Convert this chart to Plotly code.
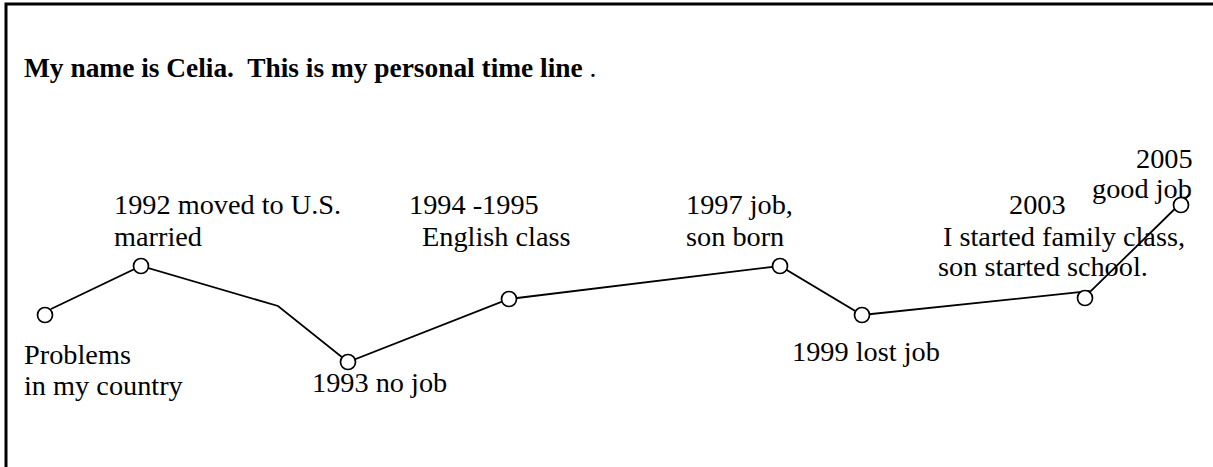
import plotly.graph_objects as go

# Timeline path (horizontal position along the timeline, vertical "life level"; smaller = higher)
line_x = [51, 141, 278, 348, 509, 780, 862, 1091, 1190]
line_y = [309, 266, 306, 362, 299, 266, 315, 291, 194]

# Event markers
event_x = [45, 141, 348, 509, 780, 862, 1085, 1181]
event_y = [315, 266, 362, 299, 266, 315, 298, 205]

# Event label lines
label_lines = [
    "Problems", "in my country",
    "1992 moved to U.S.", "married",
    "1993 no job",
    "1994 -1995", "English class",
    "1997 job,", "son born",
    "1999 lost job",
    "2003", "I started family class,", "son started school.",
    "2005", "good job",
]
title_text = "<b>My name is Celia.&nbsp; This is my personal time line</b> ."

# label placement (left x, middle y)
label_pos = [
    (22, 354), (22, 385),
    (112, 204), (112, 236),
    (310, 382),
    (407, 204), (420, 236),
    (684, 204), (684, 236),
    (790, 351),
    (1007, 204), (941, 236), (936, 266),
    (1134, 158), (1090, 188),
]

W, H = 1213, 467
FONT = "Liberation Serif, Times New Roman, serif"
LABEL_SIZE = 28.3

fig = go.Figure()
fig.add_trace(go.Scatter(x=line_x, y=line_y, mode="lines",
                         line=dict(color="black", width=1.8), hoverinfo="skip"))
fig.add_trace(go.Scatter(x=event_x, y=event_y, mode="markers",
                         marker=dict(symbol="circle", size=15, color="white",
                                     line=dict(color="black", width=1.7)),
                         hoverinfo="skip"))

annotations = [dict(x=22, y=68, text=title_text, showarrow=False, xanchor="left",
                    yanchor="middle", font=dict(family=FONT, size=27.4, color="black"))]
for txt, (lx, ly) in zip(label_lines, label_pos):
    annotations.append(dict(x=lx, y=ly, text=txt, showarrow=False, xanchor="left",
                            yanchor="middle",
                            font=dict(family=FONT, size=LABEL_SIZE, color="black")))

fig.update_layout(
    width=W, height=H, margin=dict(l=0, r=0, t=0, b=0),
    paper_bgcolor="white", plot_bgcolor="white", showlegend=False,
    xaxis=dict(range=[0, W], visible=False, fixedrange=True),
    yaxis=dict(range=[H, 0], visible=False, fixedrange=True),
    annotations=annotations,
    shapes=[dict(type="path", xref="x", yref="y", path=f"M 6 {H} L 6 4 L {W} 4",
                 line=dict(color="black", width=3))],
)

fig.write_html("out.html", config={"displayModeBar": False},
               post_script="document.body.style.margin='0';")
